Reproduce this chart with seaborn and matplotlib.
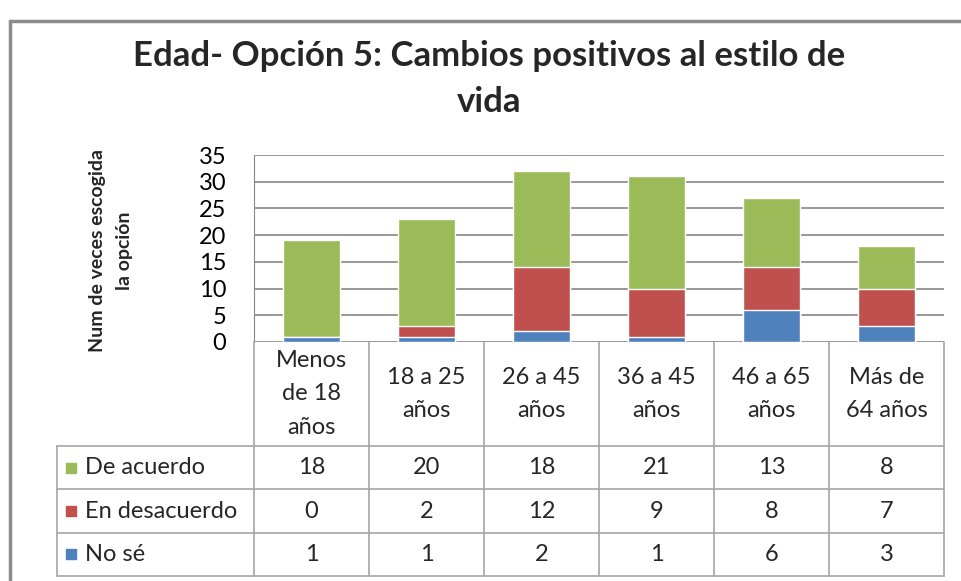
import numpy as np
import pandas as pd
import matplotlib
matplotlib.use("Agg")
import matplotlib.pyplot as plt
from matplotlib.lines import Line2D
import seaborn as sns

# datos de la tabla
categorias = ["Menos\nde 18\naños", "18 a 25\naños", "26 a 45\naños",
              "36 a 45\naños", "46 a 65\naños", "Más de\n64 años"]
de_acuerdo = [18, 20, 18, 21, 13, 8]
en_desacuerdo = [0, 2, 12, 9, 8, 7]
no_se = [1, 1, 2, 1, 6, 3]
series = ["De acuerdo", "En desacuerdo", "No sé"]
colores = ["#9BBB59", "#C0504D", "#4F81BD"]

df = pd.DataFrame({"cat": categorias, "acuerdo": de_acuerdo,
                   "desacuerdo": en_desacuerdo, "nose": no_se})
df["tope_rojo"] = df["nose"] + df["desacuerdo"]
df["total"] = df["tope_rojo"] + df["acuerdo"]

sns.set_style("white")
plt.rcParams["font.family"] = ["Lato", "DejaVu Sans"]

W, H = 961, 581
fig = plt.figure(figsize=(W / 100, H / 100), dpi=100)
fig.patch.set_facecolor("white")

# marco exterior
fig.add_artist(Line2D([10 / W, 10 / W], [0, 1 - 21 / H], color="#8c8c8c", lw=2.5))
fig.add_artist(Line2D([10 / W, 1], [1 - 21 / H, 1 - 21 / H], color="#8c8c8c", lw=2.5))

# grafico de barras apiladas
ax = fig.add_axes([254 / W, 1 - 342 / H, 690 / W, 187 / H])
sns.barplot(data=df, x="cat", y="total", color=colores[0], width=0.5,
            saturation=1, ax=ax, zorder=3)
sns.barplot(data=df, x="cat", y="tope_rojo", color=colores[1], width=0.5,
            saturation=1, ax=ax, zorder=3)
sns.barplot(data=df, x="cat", y="nose", color=colores[2], width=0.5,
            saturation=1, ax=ax, zorder=3)
ax.set_xlim(-0.5, 5.5)
ax.set_ylim(0, 35)
ax.set_yticks(range(0, 36, 5))
ax.yaxis.grid(True, color="#868686", lw=1.2, zorder=0)
for s in ["top", "right", "bottom"]:
    ax.spines[s].set_visible(False)
ax.spines["left"].set_color("#868686")
ax.tick_params(axis="y", labelsize=17, length=0, pad=20, colors="black")
ax.tick_params(axis="x", length=0, labelbottom=False)
ax.set_xlabel("")
ax.set_ylabel("")
fig.text(111 / W, 1 - 251 / H, "Num de veces escogida\nla opción", rotation=90,
         ha="center", va="center", fontsize=14, fontweight="bold",
         linespacing=1.65)

fig.suptitle("Edad- Opción 5: Cambios positivos al estilo de\nvida",
             x=489 / W, y=1 - 40 / H, va="top", fontsize=25, fontweight="bold",
             linespacing=1.55)

# tabla de datos
izq = 197 / 115
tax = fig.add_axes([57 / W, 1 - 576 / H, 887 / W, 234 / H])
tax.set_xlim(-0.5 - izq, 5.5)
tax.set_ylim(5.4, 0)
tax.axis("off")
lc = "#a6a6a6"
x0 = -0.5 - izq
for yy in [2.4, 3.4, 4.4, 5.4]:
    tax.plot([x0, 5.5], [yy, yy], color=lc, lw=1.2, clip_on=False)
tax.plot([x0, x0], [2.4, 5.4], color=lc, lw=1.2, clip_on=False)
for i in range(7):
    tax.plot([i - 0.5, i - 0.5], [0, 5.4], color=lc, lw=1.2, clip_on=False)

# encabezados de categoria
for i, c in enumerate(categorias):
    tax.text(i, 1.2, c, ha="center", va="center", fontsize=17, linespacing=1.75)

valores = [de_acuerdo, en_desacuerdo, no_se]
for r, (nombre, col, vals) in enumerate(zip(series, colores, valores)):
    yc = 2.9 + r
    tax.plot(x0 + 14 / 115, yc, marker="s", ms=7.5, color=col, clip_on=False)
    tax.text(x0 + 28 / 115, yc, nombre, ha="left", va="center", fontsize=17)
    for i, v in enumerate(vals):
        tax.text(i, yc, str(v), ha="center", va="center", fontsize=17)

plt.savefig("out.png", dpi=100)
